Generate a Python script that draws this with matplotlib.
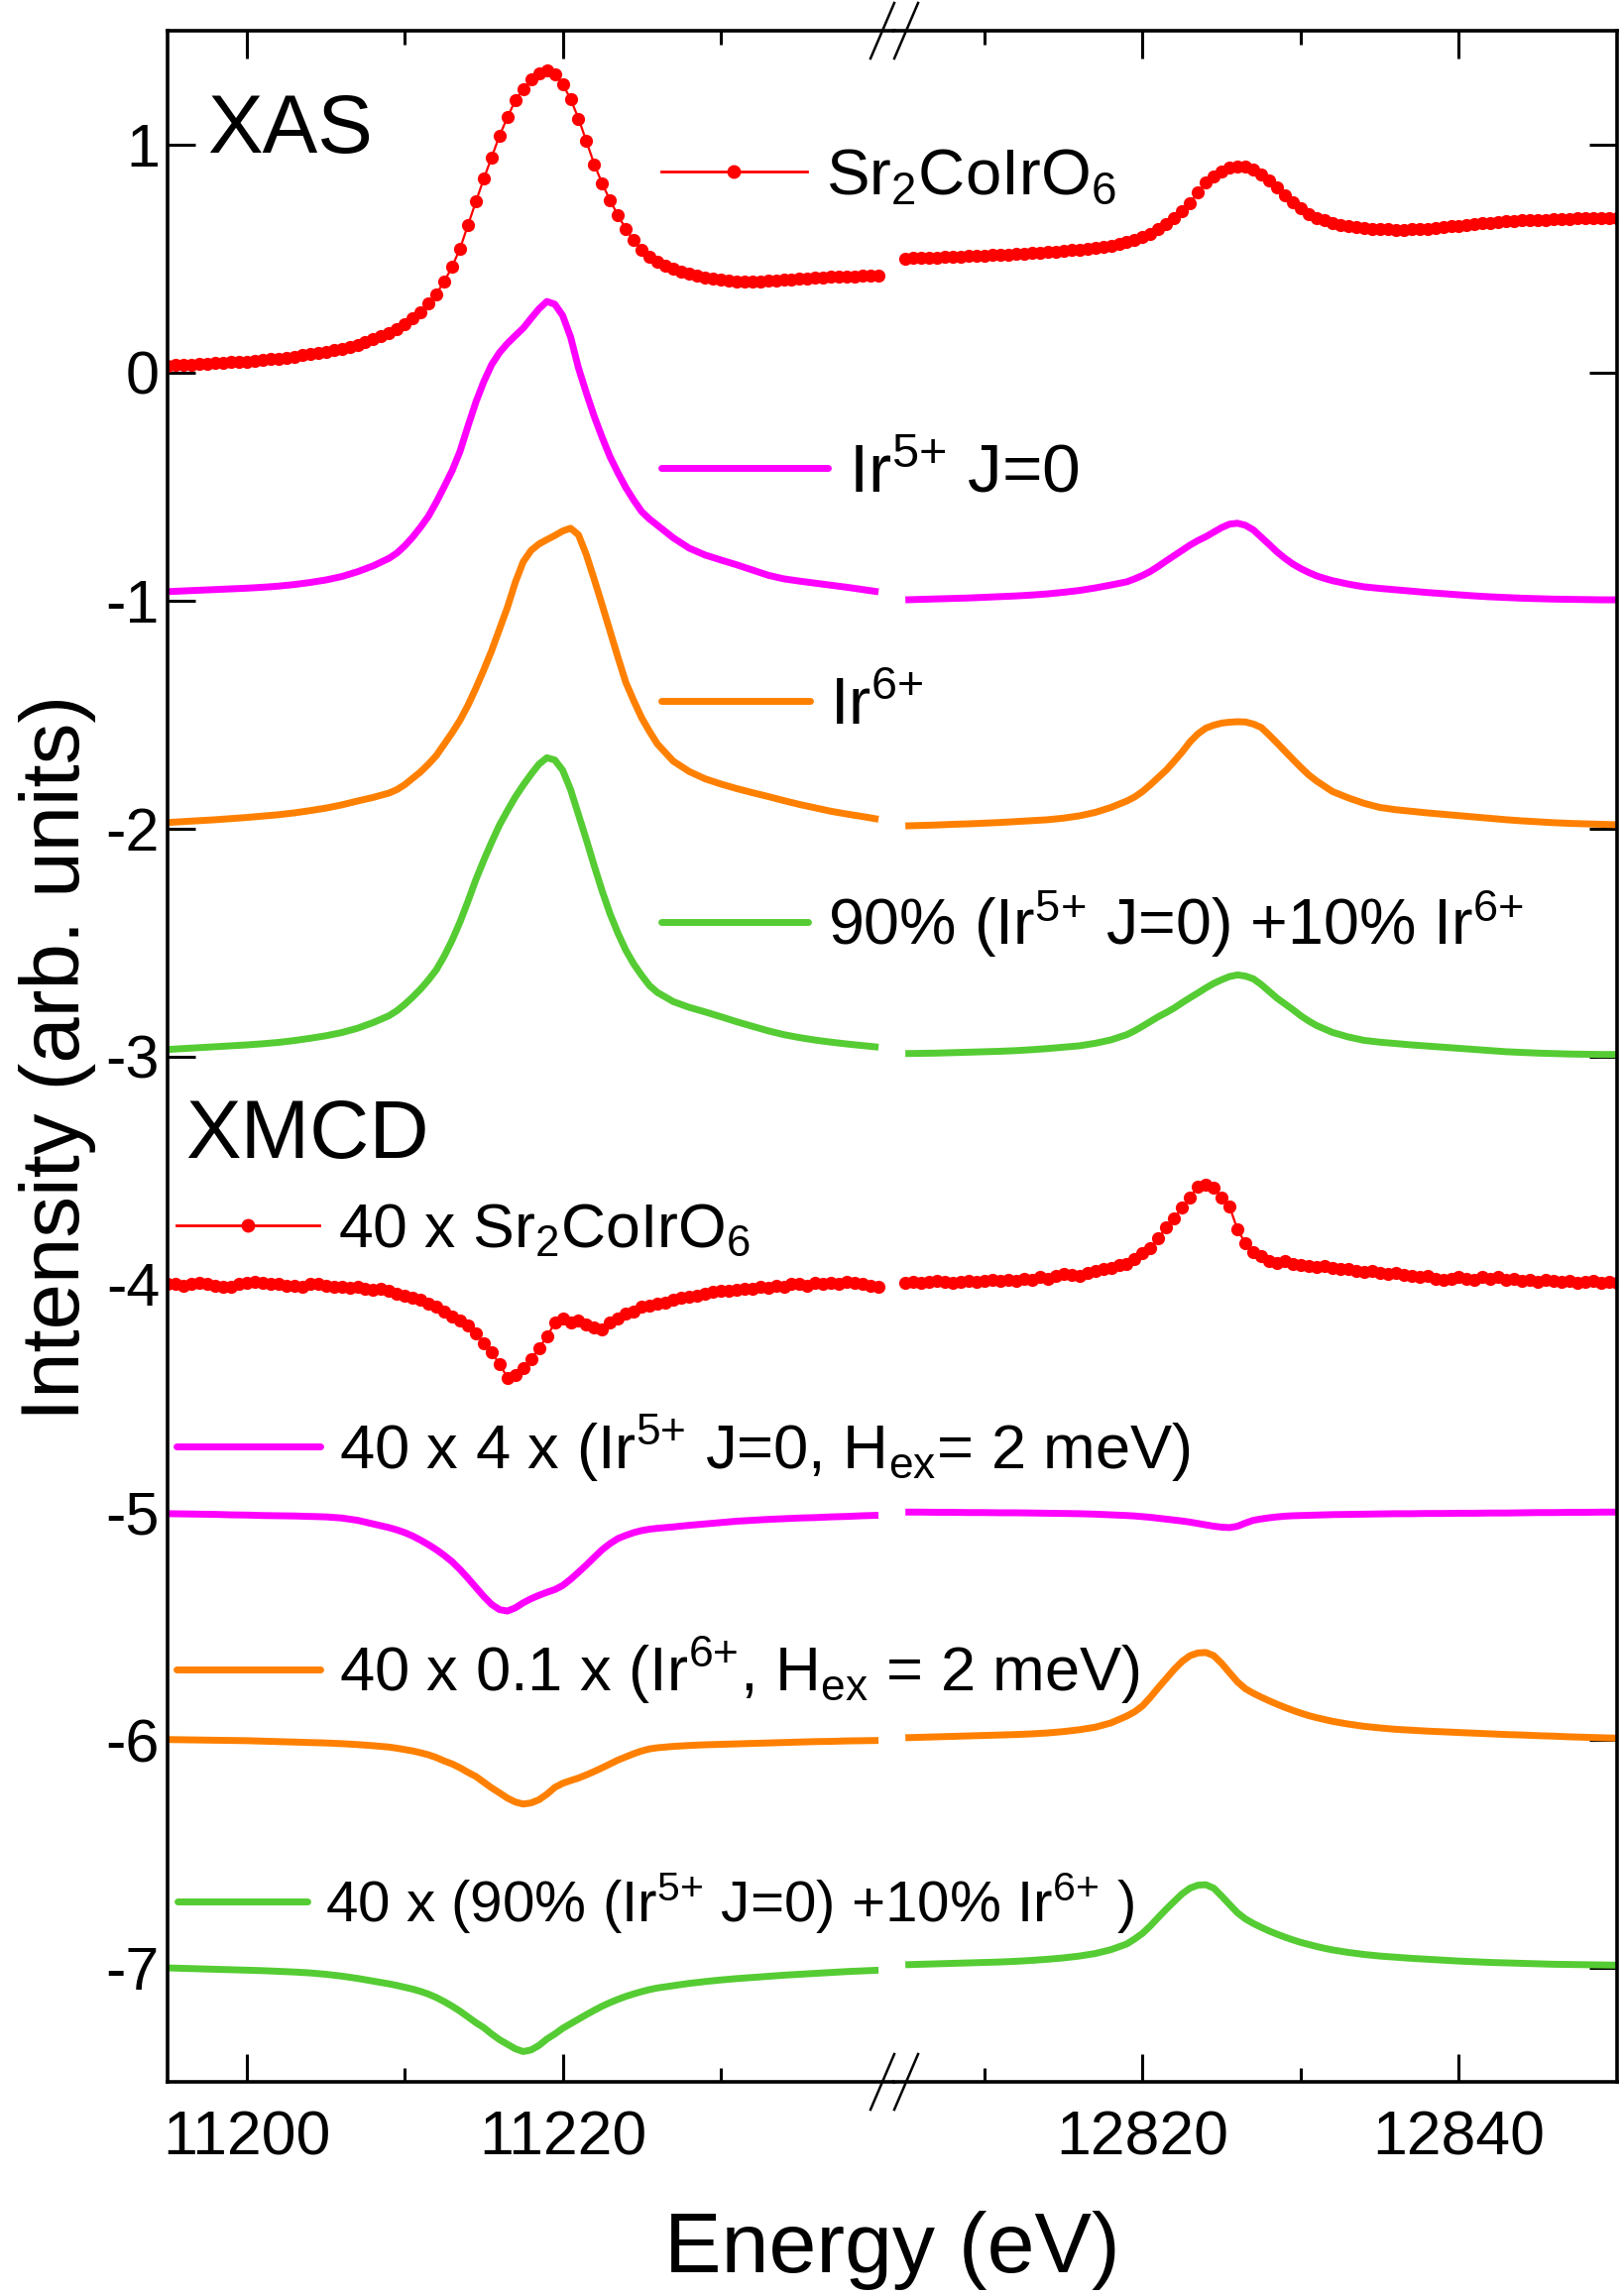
import numpy as np
import matplotlib
matplotlib.use("Agg")
import matplotlib.pyplot as plt
from matplotlib.lines import Line2D

plt.rcParams["font.family"] = ["Liberation Sans", "DejaVu Sans"]
plt.rcParams["mathtext.fontset"] = "custom"
plt.rcParams["mathtext.rm"] = "Liberation Sans"
plt.rcParams["mathtext.it"] = "Liberation Sans:italic"
plt.rcParams["axes.unicode_minus"] = False

# ─── energy grids (eV) ────────────────────────────────────────────────────────
E_DATA_LO = np.arange(11195.0, 11240.01, 0.5)      # measured, L3 side
E_DATA_HI = np.arange(12805.0, 12850.01, 0.5)      # measured, L2 side
E_CALC_LO = np.r_[np.arange(11195, 11209), np.arange(11209, 11226.01, 0.5), np.arange(11227, 11241)]
E_CALC_HI = np.r_[np.arange(12805, 12819), np.arange(12819, 12832.01, 0.5), np.arange(12833, 12851)]

# ─── XAS (offset stacked) ─────────────────────────────────────────────────────
xas_exp_lo = [
    0.030, 0.032, 0.034, 0.036, 0.038, 0.040, 0.042, 0.044, 0.046, 0.047,
    0.049, 0.051, 0.055, 0.058, 0.062, 0.066, 0.071, 0.076, 0.081, 0.086,
    0.092, 0.098, 0.104, 0.111, 0.121, 0.132, 0.145, 0.160, 0.174, 0.192,
    0.214, 0.238, 0.265, 0.302, 0.345, 0.400, 0.465, 0.545, 0.647, 0.750,
    0.850, 0.945, 1.040, 1.120, 1.195, 1.245, 1.288, 1.312, 1.324, 1.310,
    1.265, 1.200, 1.115, 1.015, 0.914, 0.830, 0.755, 0.690, 0.630, 0.580,
    0.540, 0.510, 0.488, 0.470, 0.455, 0.443, 0.433, 0.426, 0.418, 0.412,
    0.407, 0.403, 0.401, 0.400, 0.400, 0.401, 0.403, 0.405, 0.407, 0.410,
    0.412, 0.414, 0.416, 0.418, 0.420, 0.421, 0.422, 0.423, 0.424, 0.425,
    0.427]
xas_exp_hi = [
    0.500, 0.502, 0.503, 0.505, 0.506, 0.508, 0.509, 0.510, 0.512, 0.513,
    0.514, 0.516, 0.518, 0.519, 0.521, 0.523, 0.525, 0.527, 0.529, 0.531,
    0.534, 0.537, 0.540, 0.544, 0.548, 0.552, 0.557, 0.564, 0.572, 0.582,
    0.594, 0.610, 0.628, 0.650, 0.677, 0.708, 0.745, 0.790, 0.833, 0.862,
    0.884, 0.898, 0.906, 0.903, 0.890, 0.870, 0.843, 0.812, 0.780, 0.748,
    0.720, 0.697, 0.680, 0.667, 0.657, 0.649, 0.643, 0.638, 0.634, 0.631,
    0.629, 0.628, 0.627, 0.627, 0.628, 0.629, 0.632, 0.635, 0.638, 0.642,
    0.645, 0.648, 0.651, 0.654, 0.657, 0.660, 0.663, 0.665, 0.667, 0.669,
    0.670, 0.671, 0.672, 0.674, 0.675, 0.676, 0.677, 0.678, 0.679, 0.679,
    0.680]

xas_j0_lo = [
    -0.961, -0.958, -0.955, -0.952, -0.949, -0.946, -0.942, -0.937, -0.930, -0.921, -0.910, -0.895, -0.874, -0.848,
    -0.815, -0.792, -0.760, -0.722, -0.678, -0.630, -0.568, -0.500, -0.430, -0.345,
    -0.235, -0.130, -0.040, 0.035, 0.088, 0.128, 0.162, 0.195, 0.238, 0.280,
    0.312, 0.300, 0.250, 0.156, 0.020, -0.090, -0.193, -0.285, -0.370, -0.440,
    -0.505, -0.560, -0.610, -0.643, -0.670,
    -0.725, -0.770, -0.800, -0.822, -0.843, -0.866, -0.889, -0.905, -0.915, -0.924, -0.933, -0.942, -0.952, -0.962]
xas_j0_hi = [
    -0.997, -0.995, -0.993, -0.991, -0.989, -0.986, -0.983, -0.980, -0.976, -0.971, -0.964, -0.956, -0.945, -0.932,
    -0.918, -0.905, -0.890, -0.872, -0.850, -0.826, -0.803, -0.780, -0.757, -0.737,
    -0.720, -0.700, -0.680, -0.665, -0.661, -0.670, -0.690, -0.722, -0.754, -0.787,
    -0.815, -0.840, -0.860, -0.877, -0.892, -0.903, -0.913,
    -0.928, -0.940, -0.947, -0.953, -0.959, -0.965, -0.970, -0.975, -0.980, -0.984, -0.987, -0.990, -0.992,
    -0.994, -0.995, -0.996, -0.997, -0.997]

xas_ir6_lo = [
    -1.974, -1.970, -1.966, -1.962, -1.957, -1.952, -1.946, -1.940, -1.932, -1.922, -1.911, -1.897, -1.880, -1.864,
    -1.845, -1.830, -1.808, -1.780, -1.752, -1.718, -1.680, -1.630, -1.580, -1.525,
    -1.460, -1.385, -1.305, -1.220, -1.125, -1.030, -0.920, -0.830, -0.780, -0.752,
    -0.733, -0.715, -0.695, -0.683, -0.712, -0.800, -0.908, -1.020, -1.135, -1.250,
    -1.360, -1.440, -1.515, -1.575, -1.630,
    -1.705, -1.750, -1.782, -1.805, -1.825, -1.843, -1.860, -1.878, -1.895, -1.910, -1.925, -1.937, -1.948, -1.960]
xas_ir6_hi = [
    -1.989, -1.987, -1.985, -1.982, -1.980, -1.977, -1.974, -1.970, -1.966, -1.962, -1.955, -1.945, -1.930, -1.908,
    -1.880, -1.862, -1.838, -1.808, -1.776, -1.744, -1.705, -1.665, -1.620, -1.585,
    -1.560, -1.547, -1.538, -1.534, -1.532, -1.533, -1.542, -1.557, -1.590, -1.625,
    -1.661, -1.697, -1.732, -1.765, -1.792, -1.815, -1.838,
    -1.866, -1.890, -1.908, -1.918, -1.925, -1.932, -1.938, -1.944, -1.950, -1.956, -1.962, -1.967, -1.971,
    -1.975, -1.978, -1.980, -1.982, -1.984]

xas_mix_lo = [
    -2.970, -2.966, -2.962, -2.958, -2.954, -2.950, -2.945, -2.939, -2.931, -2.921, -2.910, -2.896, -2.877, -2.852,
    -2.822, -2.800, -2.772, -2.740, -2.705, -2.665, -2.620, -2.560, -2.490, -2.410,
    -2.320, -2.225, -2.140, -2.060, -1.985, -1.922, -1.862, -1.810, -1.762, -1.718,
    -1.690, -1.700, -1.745, -1.830, -1.940, -2.050, -2.165, -2.275, -2.375, -2.460,
    -2.535, -2.595, -2.645, -2.690, -2.720,
    -2.760, -2.785, -2.805, -2.826, -2.848, -2.868, -2.888, -2.905, -2.918, -2.929, -2.938, -2.946, -2.953, -2.960]
xas_mix_hi = [
    -2.988, -2.987, -2.986, -2.984, -2.982, -2.980, -2.978, -2.975, -2.971, -2.966, -2.960, -2.954, -2.943, -2.928,
    -2.905, -2.888, -2.868, -2.847, -2.826, -2.808, -2.788, -2.765, -2.743, -2.722,
    -2.700, -2.680, -2.664, -2.650, -2.643, -2.648, -2.660, -2.685, -2.715, -2.745,
    -2.770, -2.795, -2.822, -2.845, -2.865, -2.880, -2.895,
    -2.915, -2.930, -2.938, -2.944, -2.950, -2.955, -2.960, -2.965, -2.970, -2.975, -2.980, -2.983, -2.986,
    -2.988, -2.990, -2.991, -2.992, -2.992]

# ─── XMCD (x40, offset stacked) ───────────────────────────────────────────────
xmcd_exp_lo = [
    -4.000, -4.000, -4.005, -4.000, -3.995, -4.000, -4.005, -4.010, -4.010, -4.000,
    -3.995, -3.990, -3.995, -4.000, -4.000, -4.005, -4.005, -4.010, -4.000, -4.000,
    -4.005, -4.010, -4.010, -4.015, -4.010, -4.020, -4.025, -4.020, -4.030, -4.040,
    -4.050, -4.060, -4.070, -4.085, -4.100, -4.120, -4.140, -4.160, -4.180, -4.215,
    -4.260, -4.300, -4.350, -4.410, -4.400, -4.370, -4.330, -4.280, -4.230, -4.170,
    -4.150, -4.170, -4.160, -4.175, -4.190, -4.200, -4.170, -4.150, -4.130, -4.120,
    -4.100, -4.095, -4.085, -4.080, -4.070, -4.060, -4.055, -4.050, -4.040, -4.035,
    -4.030, -4.030, -4.025, -4.020, -4.020, -4.010, -4.015, -4.005, -4.010, -4.000,
    -4.000, -4.005, -3.995, -4.000, -3.995, -4.000, -3.990, -3.995, -4.000, -4.005,
    -4.010]
xmcd_exp_hi = [
    -3.995, -3.990, -3.995, -3.990, -3.985, -3.990, -3.995, -3.990, -3.985, -3.990,
    -3.985, -3.980, -3.985, -3.980, -3.985, -3.975, -3.980, -3.970, -3.975, -3.965,
    -3.955, -3.960, -3.965, -3.950, -3.940, -3.935, -3.930, -3.915, -3.910, -3.890,
    -3.865, -3.840, -3.800, -3.750, -3.710, -3.665, -3.620, -3.570, -3.565, -3.575,
    -3.620, -3.660, -3.760, -3.820, -3.860, -3.875, -3.900, -3.905, -3.900, -3.910,
    -3.915, -3.920, -3.925, -3.920, -3.930, -3.935, -3.935, -3.940, -3.945, -3.940,
    -3.950, -3.955, -3.950, -3.960, -3.965, -3.970, -3.965, -3.975, -3.980, -3.975,
    -3.970, -3.975, -3.980, -3.970, -3.975, -3.970, -3.980, -3.975, -3.985, -3.980,
    -3.990, -3.980, -3.985, -3.990, -3.985, -3.995, -3.990, -3.985, -3.995, -3.990,
    -3.995]

xmcd_j0_lo = [
    -5.007, -5.008, -5.009, -5.010, -5.012, -5.013, -5.015, -5.016, -5.017, -5.019, -5.021, -5.026, -5.036, -5.052,
    -5.068, -5.078, -5.090, -5.105, -5.123, -5.143, -5.165, -5.190, -5.218, -5.252,
    -5.290, -5.330, -5.370, -5.405, -5.428, -5.434, -5.420, -5.398, -5.380, -5.365,
    -5.352, -5.340, -5.322, -5.295, -5.264, -5.232, -5.198, -5.165, -5.138, -5.116,
    -5.102, -5.090, -5.081, -5.075, -5.071,
    -5.065, -5.058, -5.052, -5.046, -5.040, -5.036, -5.032, -5.029, -5.026, -5.024, -5.021, -5.019, -5.016, -5.014]
xmcd_j0_hi = [
    -5.000, -5.000, -5.001, -5.001, -5.002, -5.002, -5.003, -5.003, -5.004, -5.005, -5.006, -5.007, -5.009, -5.012,
    -5.015, -5.017, -5.020, -5.023, -5.027, -5.031, -5.035, -5.039, -5.044, -5.050,
    -5.056, -5.062, -5.066, -5.068, -5.062, -5.048, -5.036, -5.030, -5.025, -5.021,
    -5.018, -5.016, -5.015, -5.014, -5.013, -5.012, -5.011,
    -5.010, -5.009, -5.008, -5.007, -5.007, -5.006, -5.006, -5.005, -5.005, -5.004, -5.004, -5.003, -5.002,
    -5.002, -5.001, -5.001, -5.000, -5.000]

xmcd_ir6_lo = [
    -5.998, -5.999, -6.000, -6.001, -6.002, -6.003, -6.005, -6.007, -6.009, -6.011, -6.013, -6.016, -6.020, -6.025,
    -6.031, -6.036, -6.042, -6.048, -6.056, -6.065, -6.077, -6.092, -6.105, -6.122,
    -6.142, -6.160, -6.185, -6.210, -6.232, -6.255, -6.272, -6.281, -6.276, -6.262,
    -6.238, -6.208, -6.190, -6.178, -6.167, -6.153, -6.138, -6.122, -6.105, -6.088,
    -6.074, -6.060, -6.048, -6.039, -6.034,
    -6.028, -6.024, -6.021, -6.019, -6.017, -6.015, -6.013, -6.011, -6.009, -6.007, -6.006, -6.004, -6.003, -6.002]
xmcd_ir6_hi = [
    -5.990, -5.988, -5.986, -5.984, -5.982, -5.980, -5.978, -5.976, -5.973, -5.969, -5.963, -5.955, -5.944, -5.925,
    -5.895, -5.876, -5.850, -5.812, -5.770, -5.730, -5.690, -5.655, -5.630, -5.618,
    -5.616, -5.630, -5.664, -5.705, -5.745, -5.775, -5.795, -5.812, -5.828, -5.843,
    -5.857, -5.870, -5.882, -5.893, -5.902, -5.910, -5.918,
    -5.930, -5.940, -5.947, -5.953, -5.957, -5.961, -5.964, -5.967, -5.970, -5.973, -5.976, -5.978, -5.981,
    -5.983, -5.986, -5.988, -5.990, -5.992]

xmcd_mix_lo = [
    -7.000, -7.002, -7.004, -7.006, -7.008, -7.010, -7.012, -7.015, -7.018, -7.022, -7.028, -7.036, -7.046, -7.058,
    -7.070, -7.077, -7.085, -7.093, -7.103, -7.115, -7.130, -7.148, -7.168, -7.190,
    -7.215, -7.240, -7.262, -7.290, -7.315, -7.335, -7.355, -7.367, -7.360, -7.340,
    -7.312, -7.290, -7.265, -7.245, -7.225, -7.205, -7.186, -7.168, -7.152, -7.138,
    -7.125, -7.114, -7.104, -7.095, -7.088,
    -7.078, -7.068, -7.060, -7.053, -7.047, -7.042, -7.037, -7.032, -7.028, -7.024, -7.020, -7.016, -7.013, -7.010]
xmcd_mix_hi = [
    -6.986, -6.984, -6.982, -6.980, -6.978, -6.976, -6.974, -6.971, -6.967, -6.962, -6.956, -6.948, -6.937, -6.920,
    -6.895, -6.873, -6.848, -6.815, -6.778, -6.742, -6.708, -6.675, -6.650, -6.637,
    -6.635, -6.650, -6.685, -6.722, -6.758, -6.785, -6.805, -6.822, -6.838, -6.852,
    -6.865, -6.877, -6.888, -6.897, -6.906, -6.914, -6.921,
    -6.932, -6.941, -6.948, -6.953, -6.958, -6.962, -6.966, -6.970, -6.973, -6.976, -6.978, -6.980, -6.982,
    -6.984, -6.985, -6.986, -6.987, -6.988]

SR = r"Sr$_{\mathregular{2}}$CoIrO$_{\mathregular{6}}$"
J0 = r"Ir$^{\mathregular{5{+}}}$ J=0"
I6 = r"Ir$^{\mathregular{6{+}}}$"
HEX = r"H$_{\mathregular{ex}}$"
labels = [
    SR, J0, I6, "90% (" + J0 + ") +10% " + I6,
    "40 x " + SR,
    "40 x 4 x (" + J0 + ", " + HEX + "= 2 meV)",
    "40 x 0.1 x (" + I6 + ", " + HEX + " = 2 meV)",
    "40 x (90% (" + J0 + ") +10% " + I6 + " )",
]

RED, MAGENTA, ORANGE, GREEN = "#FF0000", "#FF00FF", "#FF8000", "#55CC33"

# ─── figure / broken axis ─────────────────────────────────────────────────────
W, H = 1638, 2315
fig = plt.figure(figsize=(W / 100, H / 100), dpi=100)
x_l, x_s, x_r = 169.4 / W, 902 / W, 1631 / W
y_b, y_t = 1 - 2100 / H, 1 - 31 / H
ax1 = fig.add_axes([x_l, y_b, x_s - x_l, y_t - y_b])
ax2 = fig.add_axes([x_s, y_b, x_r - x_s, y_t - y_b])

series = [
    (xas_exp_lo, xas_exp_hi, RED, True),
    (xas_j0_lo, xas_j0_hi, MAGENTA, False),
    (xas_ir6_lo, xas_ir6_hi, ORANGE, False),
    (xas_mix_lo, xas_mix_hi, GREEN, False),
    (xmcd_exp_lo, xmcd_exp_hi, RED, True),
    (xmcd_j0_lo, xmcd_j0_hi, MAGENTA, False),
    (xmcd_ir6_lo, xmcd_ir6_hi, ORANGE, False),
    (xmcd_mix_lo, xmcd_mix_hi, GREEN, False),
]

handles = []
for lo, hi, col, measured in series:
    if measured:
        kw = dict(color=col, lw=1.6, marker="o", ms=9.5, mew=0)
        ax1.plot(E_DATA_LO, lo, **kw)
        ax2.plot(E_DATA_HI, hi, **kw)
        handles.append(Line2D([], [], color=col, lw=2.0, marker="o", ms=10, mew=0))
    else:
        kw = dict(color=col, lw=5.0, solid_capstyle="butt")
        ax1.plot(E_CALC_LO, lo, **kw)
        ax2.plot(E_CALC_HI, hi, **kw)
        handles.append(Line2D([], [], color=col, lw=5.0, solid_capstyle="round"))

ax1.set_xlim(11195, 11241.0)
ax2.set_xlim(12804.3, 12850)
for ax in (ax1, ax2):
    ax.set_ylim(-7.5, 1.5)
    ax.set_yticks(range(-7, 2))
    for sp in ax.spines.values():
        sp.set_linewidth(2.6)
    ax.tick_params(which="both", direction="in", top=True, bottom=True, width=2.2)
    ax.tick_params(which="major", length=20)
    ax.tick_params(which="minor", length=10)
    ax.tick_params(axis="x", labelsize=45, pad=20)

ax1.spines["right"].set_visible(False)
ax2.spines["left"].set_visible(False)
ax1.tick_params(axis="y", left=True, right=False, labelsize=44, pad=6)
ax2.tick_params(axis="y", left=False, right=True, labelleft=False)
ax1.set_xticks([11200, 11220])
ax1.set_xticks([11210, 11230], minor=True)
ax2.set_xticks([12820, 12840])
ax2.set_xticks([12810, 12830], minor=True)

# break marks "//" on top and bottom spines
for yc in (31, 2100):
    for xc in (890, 914):
        fig.add_artist(Line2D([(xc - 12) / W, (xc + 12) / W], [1 - (yc + 28) / H, 1 - (yc - 28) / H],
                              transform=fig.transFigure, color="k", lw=1.8))

ax1.text(11197.5, 0.965, "XAS", fontsize=60, va="baseline")
ax1.text(11196.1, -3.448, "XMCD", fontsize=60, va="baseline")

# legend entries, one per curve
leg_pos = [(11226.24, 0.859), (11226.24, -0.447), (11226.24, -1.469), (11226.24, -2.417),
           (11195.54, -3.765), (11195.54, -4.722), (11195.54, -5.696), (11195.6, -6.717)]
leg_len = [2.25, 2.42, 2.25, 2.3, 2.3, 2.3, 2.3, 2.25]
leg_fs = [47, 50, 48, 46.5, 45, 45.5, 45.5, 42]
for h, lab, pos, hl, fs in zip(handles, labels, leg_pos, leg_len, leg_fs):
    fig.legend([h], [lab], loc="center left", bbox_to_anchor=pos, bbox_transform=ax1.transData,
               frameon=False, fontsize=fs, handlelength=hl, handletextpad=0.3,
               borderpad=0, borderaxespad=0, numpoints=1)

fig.text(58 / W, 0.539, "Intensity (arb. units)", rotation=90, fontsize=60, ha="center", va="center")
fig.text(900 / W, 1 - 2270 / H, "Energy (eV)", fontsize=62, ha="center", va="center")

fig.savefig("out.png", dpi=100)
